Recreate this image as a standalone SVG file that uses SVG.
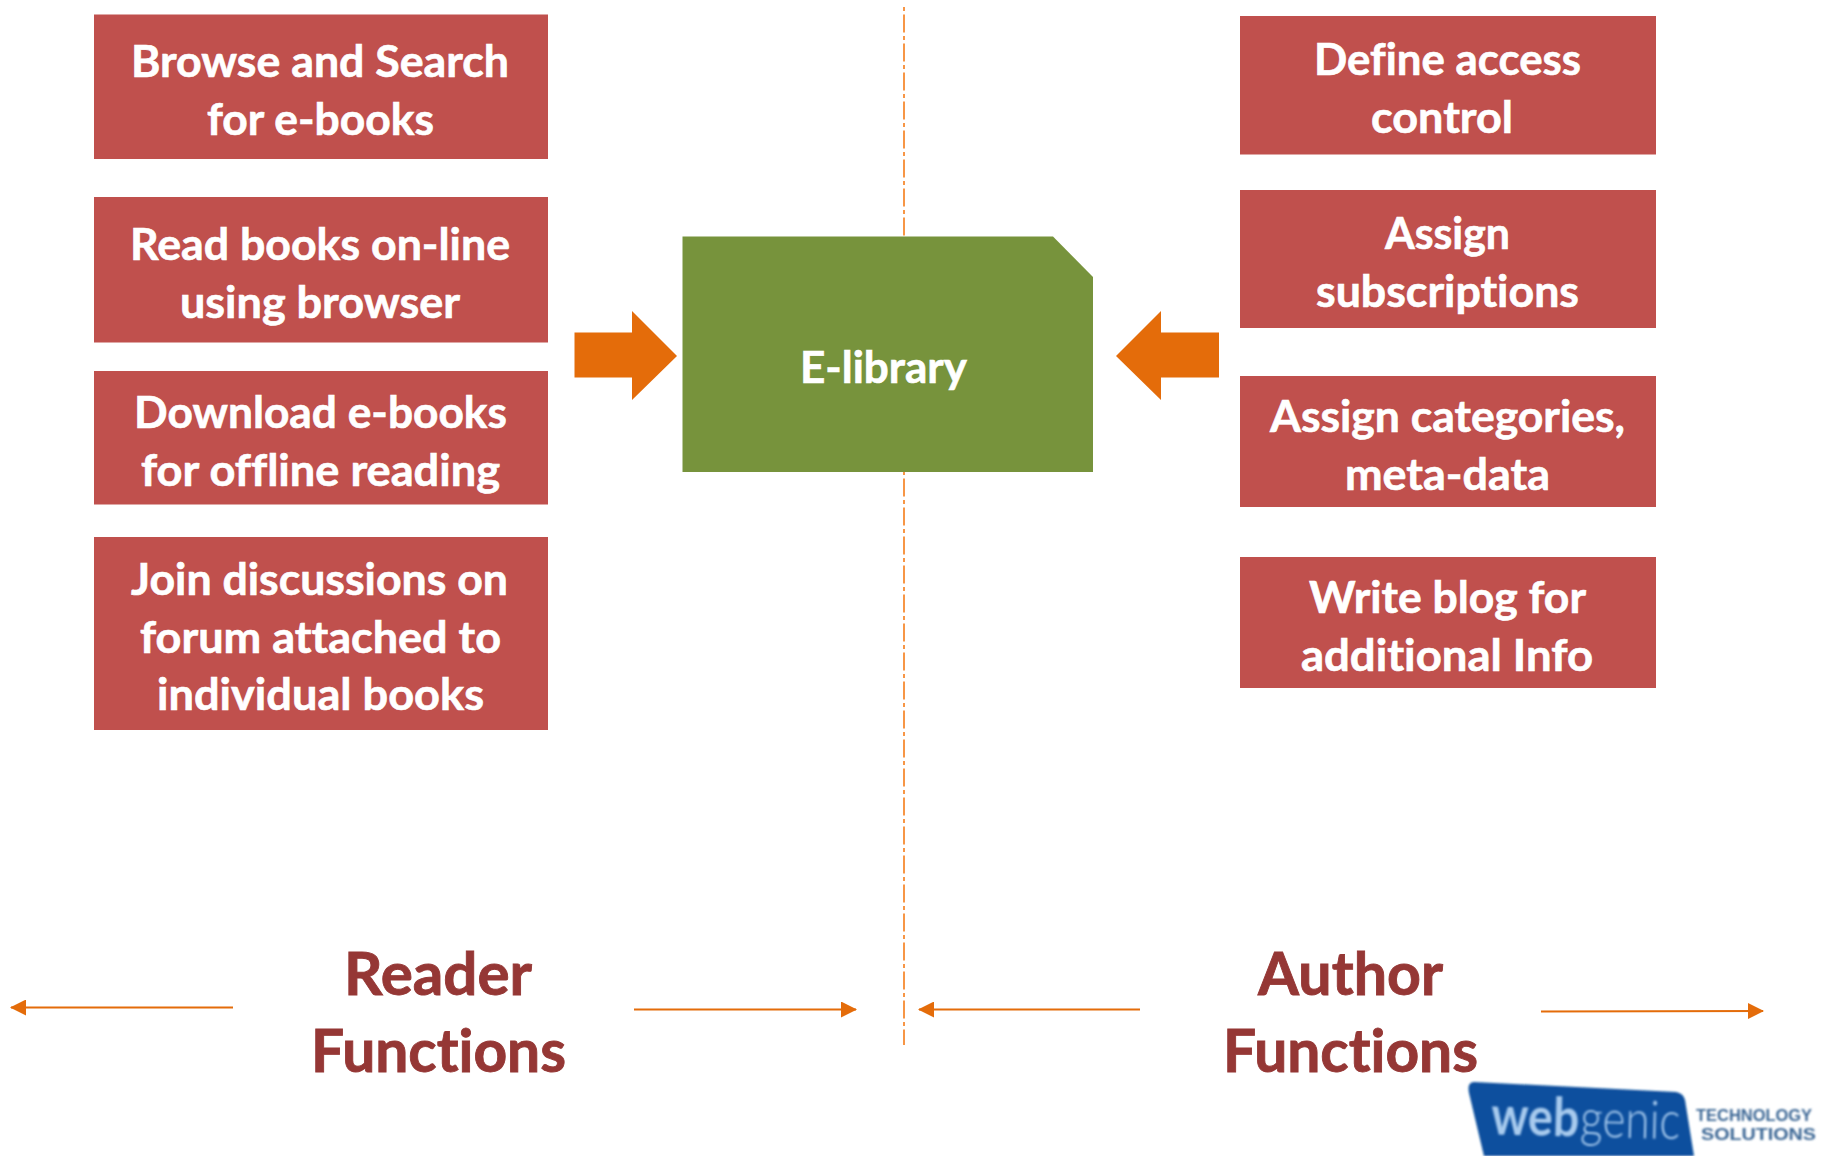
<svg xmlns="http://www.w3.org/2000/svg" width="1823" height="1156" viewBox="0 0 1823 1156">
<defs>
<style>
text{font-variant-ligatures:none;font-feature-settings:"liga" 0,"clig" 0,"dlig" 0}
.b{fill:#c0504d}
.t{font-family:"Lato","Liberation Sans",sans-serif;font-weight:700;font-size:43px;fill:#fff;stroke:#fff;stroke-width:.6px}
.h{font-family:"Lato","Liberation Sans",sans-serif;font-weight:700;font-size:60px;fill:#953735;stroke:#953735;stroke-width:.9px}
.a{fill:#e46c0a}
.l{stroke:#e46c0a;stroke-width:2;fill:none}
.lg{font-family:"Liberation Sans",sans-serif}
</style>
<marker id="ah" markerWidth="16" markerHeight="16" refX="15" refY="8" orient="auto" markerUnits="userSpaceOnUse"><path d="M0 0L16 8L0 16Z" fill="#e46c0a"/></marker>
<filter id="bl" x="-5%" y="-5%" width="110%" height="110%"><feGaussianBlur stdDeviation="0.8"/></filter>
</defs>
<rect width="1823" height="1156" fill="#fff"/>
<g id="connectors">
<path id="divider" d="M904 7V1045" fill="none" stroke="#f79646" stroke-width="2" stroke-dasharray="4 3.500 18 3.500"/>
<path class="l" d="M233 1007.500H11" marker-end="url(#ah)"/>
<path class="l" d="M634 1009.500H856" marker-end="url(#ah)"/>
<path class="l" d="M1140 1009.500H919" marker-end="url(#ah)"/>
<path class="l" d="M1541 1011.500L1763 1011" marker-end="url(#ah)"/>
<path class="a" d="M574.500 332.500H632V311L677 356L632 400V377.500H574.500Z"/>
<path class="a" d="M1219 332.500H1161V311L1116 356L1161 400V377.500H1219Z"/>
</g>
<g id="browse"><rect class="b" x="94" y="14.500" width="454" height="144.500"/>
<text class="t" x="131" y="77" textLength="378" lengthAdjust="spacingAndGlyphs">Browse and Search</text>
<text class="t" x="207" y="135" textLength="227" lengthAdjust="spacingAndGlyphs">for e-books</text></g>
<g id="read"><rect class="b" x="94" y="197" width="454" height="145.500"/>
<text class="t" x="130" y="260" textLength="380" lengthAdjust="spacingAndGlyphs">Read books on-line</text>
<text class="t" x="180" y="318" textLength="280" lengthAdjust="spacingAndGlyphs">using browser</text></g>
<g id="download"><rect class="b" x="94" y="371" width="454" height="133.500"/>
<text class="t" x="134" y="428" textLength="373" lengthAdjust="spacingAndGlyphs">Download e-books</text>
<text class="t" x="141" y="485.500" textLength="359" lengthAdjust="spacingAndGlyphs">for offline reading</text></g>
<g id="join"><rect class="b" x="94" y="537" width="454" height="193"/>
<text class="t" x="131" y="595" textLength="377" lengthAdjust="spacingAndGlyphs">Join discussions on</text>
<text class="t" x="140" y="653" textLength="361" lengthAdjust="spacingAndGlyphs">forum attached to</text>
<text class="t" x="157" y="710" textLength="327" lengthAdjust="spacingAndGlyphs">individual books</text></g>
<g id="define"><rect class="b" x="1240" y="16" width="416" height="138.500"/>
<text class="t" x="1314" y="75" textLength="267" lengthAdjust="spacingAndGlyphs">Define access</text>
<text class="t" x="1371" y="133" textLength="142" lengthAdjust="spacingAndGlyphs">control</text></g>
<g id="assign-sub"><rect class="b" x="1240" y="190" width="416" height="138"/>
<text class="t" x="1385" y="249" textLength="125" lengthAdjust="spacingAndGlyphs">Assign</text>
<text class="t" x="1316" y="307" textLength="263" lengthAdjust="spacingAndGlyphs">subscriptions</text></g>
<g id="assign-cat"><rect class="b" x="1240" y="376" width="416" height="131"/>
<text class="t" x="1270" y="432" textLength="355" lengthAdjust="spacingAndGlyphs">Assign categories,</text>
<text class="t" x="1345" y="490" textLength="205" lengthAdjust="spacingAndGlyphs">meta-data</text></g>
<g id="blog"><rect class="b" x="1240" y="557" width="416" height="131"/>
<text class="t" x="1309" y="613" textLength="277" lengthAdjust="spacingAndGlyphs">Write blog for</text>
<text class="t" x="1301" y="671" textLength="292" lengthAdjust="spacingAndGlyphs">additional Info</text></g>
<g id="elibrary"><path d="M682.500 236.500H1053L1093 277V472H682.500Z" fill="#77933c"/>
<text class="t" x="800" y="383" textLength="167" lengthAdjust="spacingAndGlyphs">E-library</text></g>
<g id="reader"><text class="h" x="344" y="995" textLength="188" lengthAdjust="spacingAndGlyphs">Reader</text>
<text class="h" x="311" y="1072" textLength="255" lengthAdjust="spacingAndGlyphs">Functions</text></g>
<g id="author"><text class="h" x="1258" y="995" textLength="185" lengthAdjust="spacingAndGlyphs">Author</text>
<text class="h" x="1223" y="1072" textLength="255" lengthAdjust="spacingAndGlyphs">Functions</text></g>
<g id="logo"><path d="M1474 1082L1676 1092Q1683 1093 1685 1100L1694 1156H1484L1469 1093Q1467 1082 1474 1082Z" fill="#0b4f9e" filter="url(#bl)"/>
<g transform="rotate(1.500 1590 1130)" filter="url(#bl)">
<text x="1491" y="1137" font-family="Lato,'Liberation Sans',sans-serif" font-size="54" font-weight="700" fill="#a8cbee" textLength="88" lengthAdjust="spacingAndGlyphs">web</text>
<text x="1580" y="1137" font-family="Lato,'Liberation Sans',sans-serif" font-size="54" font-weight="300" fill="#a8cbee" textLength="100" lengthAdjust="spacingAndGlyphs">genic</text></g>
<text class="lg" x="1696" y="1121" font-size="16" font-weight="700" fill="#3b6694" textLength="116" lengthAdjust="spacingAndGlyphs" filter="url(#bl)">TECHNOLOGY</text>
<text class="lg" x="1701" y="1140" font-size="16" font-weight="700" fill="#3b6694" textLength="115" lengthAdjust="spacingAndGlyphs" filter="url(#bl)">SOLUTIONS</text></g>
</svg>
